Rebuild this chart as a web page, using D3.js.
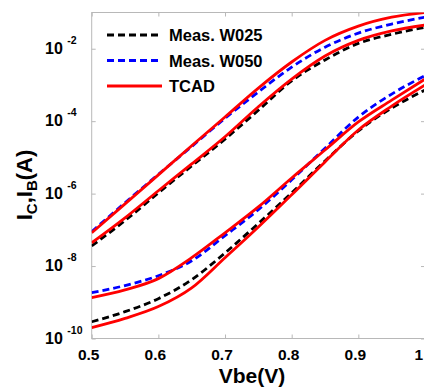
<!DOCTYPE html>
<html>
<head>
<meta charset="utf-8">
<script src="https://cdn.jsdelivr.net/npm/d3@7"></script>
<style>
  body { margin: 0; background: #fff; }
  svg { font-family: "Liberation Sans", Arial, sans-serif; font-weight: bold; }
</style>
</head>
<body>
<svg id="chart"></svg>
<script>
const width = 424, height = 390;

// Vbe sweep (V)
const vbe = [0.5, 0.55, 0.6, 0.65, 0.7, 0.75, 0.8, 0.85, 0.9, 0.95, 1.0];

// collector currents (A)
const icW025Meas = [3.6e-8, 1.8e-7, 1.05e-6, 5.8e-6, 3.2e-5, 2.0e-4, 1.3e-3, 4.9e-3, 1.4e-2, 2.5e-2, 3.9e-2];
const icW050Meas = [8.9e-8, 5.6e-7, 3.4e-6, 2.0e-5, 1.2e-4, 6.4e-4, 3.1e-3, 1.1e-2, 2.7e-2, 4.8e-2, 7.4e-2];
const icW025Tcad = [4.4e-8, 2.15e-7, 1.2e-6, 6.6e-6, 3.7e-5, 2.5e-4, 1.45e-3, 6.3e-3, 1.7e-2, 3.1e-2, 4.5e-2];
const icW050Tcad = [8.3e-8, 5.2e-7, 3.3e-6, 2.1e-5, 1.3e-4, 8.2e-4, 4.3e-3, 1.7e-2, 4.2e-2, 7.4e-2, 1.0e-1];

// base currents (A)
const ibW025Meas = [2.9e-10, 5.5e-10, 1.26e-9, 4.2e-9, 2.3e-8, 1.5e-7, 1.05e-6, 8.0e-6, 5.4e-5, 2.3e-4, 7.2e-4];
const ibW050Meas = [1.85e-9, 2.9e-9, 5.4e-9, 1.4e-8, 6.9e-8, 3.6e-7, 2.4e-6, 1.8e-5, 1.3e-4, 5.6e-4, 1.8e-3];
const ibW025Tcad = [2.0e-10, 3.6e-10, 7.6e-10, 2.5e-9, 1.7e-8, 1.2e-7, 9.3e-7, 7.5e-6, 5.7e-5, 2.6e-4, 9.9e-4];
const ibW050Tcad = [1.35e-9, 2.2e-9, 4.5e-9, 1.7e-8, 8.3e-8, 4.3e-7, 2.7e-6, 1.6e-5, 9.5e-5, 3.8e-4, 1.45e-3];

const xTicks = [0.5, 0.6, 0.7, 0.8, 0.9, 1.0];
const xTickLabels = ["0.5", "0.6", "0.7", "0.8", "0.9", "1"];
const yTickExps = [-10, -8, -6, -4, -2];

const legendNames = ["Meas. W025", "Meas. W050", "TCAD"];

let svg = d3.select("svg#chart").attr("width", width).attr("height", height);

let x = d3.scaleLinear().domain([0.5, 1.0]).range([91.7, 425]);
let y = d3.scaleLog().domain([1e-10, 1e-1]).range([338.5, 12.5]);

const styles = {
    black: { stroke: "#000", dash: "7,4" },
    blue: { stroke: "#0000ff", dash: "7,4" },
    red: { stroke: "#ff0000", dash: null },
};

let series = [
    { values: icW025Meas, style: styles.black },
    { values: ibW025Meas, style: styles.black },
    { values: icW050Meas, style: styles.blue },
    { values: ibW050Meas, style: styles.blue },
    { values: icW025Tcad, style: styles.red },
    { values: ibW025Tcad, style: styles.red },
    { values: icW050Tcad, style: styles.red },
    { values: ibW050Tcad, style: styles.red },
];

svg.append("clipPath")
    .attr("id", "plot-clip")
    .append("rect")
    .attr("x", x(0.5))
    .attr("y", y(1e-1))
    .attr("width", x(1.0) - x(0.5))
    .attr("height", y(1e-10) - y(1e-1));

// frame + ticks
const frameColor = "#b8b8b8";
svg.append("rect")
    .attr("x", x(0.5))
    .attr("y", y(1e-1))
    .attr("width", x(1.0) - x(0.5))
    .attr("height", y(1e-10) - y(1e-1))
    .attr("fill", "none")
    .attr("stroke", frameColor)
    .attr("stroke-width", 1);

let xAxisBottom = d3.axisBottom(x).tickValues(xTicks).tickSizeInner(-4).tickSizeOuter(0).tickFormat("");
let xAxisTop = d3.axisTop(x).tickValues(xTicks).tickSizeInner(-4).tickSizeOuter(0).tickFormat("");
let yAxisLeft = d3.axisLeft(y).tickValues(yTickExps.map((e) => Math.pow(10, e))).tickSizeInner(-4).tickSizeOuter(0).tickFormat("");
let yAxisRight = d3.axisRight(y).tickValues(yTickExps.map((e) => Math.pow(10, e))).tickSizeInner(-4).tickSizeOuter(0).tickFormat("");

[
    [xAxisBottom, `translate(0,${y(1e-10)})`],
    [xAxisTop, `translate(0,${y(1e-1)})`],
    [yAxisLeft, `translate(${x(0.5)},0)`],
    [yAxisRight, `translate(${x(1.0)},0)`],
].forEach(([axis, tr]) => {
    let g = svg.append("g").attr("transform", tr).call(axis);
    g.select(".domain").remove();
    g.selectAll("line").attr("stroke", frameColor);
});

// tick labels (last one pushed in so it stays on the page)
svg.append("g")
    .selectAll("text")
    .data(xTicks)
    .enter()
    .append("text")
    .attr("x", (d, i) => (i === xTicks.length - 1 ? width - 1 : x(d) - 3))
    .attr("y", y(1e-10) + 21.5)
    .attr("text-anchor", (d, i) => (i === xTicks.length - 1 ? "end" : "middle"))
    .attr("font-size", "15.5px")
    .text((d, i) => xTickLabels[i]);

let yLabels = svg.append("g")
    .selectAll("text")
    .data(yTickExps)
    .enter()
    .append("text")
    .attr("x", 45)
    .attr("y", (d) => y(Math.pow(10, d)) + 5.3)
    .attr("font-size", "16px");
yLabels.append("tspan").text("10");
yLabels.append("tspan")
    .attr("dx", 4.5)
    .attr("dy", -10)
    .attr("font-size", "10.5px")
    .text((d) => `${d}`);

// axis titles
svg.append("text")
    .attr("x", 252)
    .attr("y", 383)
    .attr("text-anchor", "middle")
    .attr("font-size", "21px")
    .text("Vbe(V)");

let yTitle = svg.append("text")
    .attr("transform", "translate(32,185) rotate(-90)")
    .attr("text-anchor", "middle")
    .attr("font-size", "22px");
yTitle.append("tspan").text("I");
yTitle.append("tspan").attr("font-size", "15px").attr("dy", 5).text("C");
yTitle.append("tspan").attr("dy", -5).text(",I");
yTitle.append("tspan").attr("font-size", "15px").attr("dy", 5).text("B");
yTitle.append("tspan").attr("dy", -5).text("(A)");

// curves
let line = d3.line()
    .x((d) => x(d[0]))
    .y((d) => y(d[1]))
    .curve(d3.curveMonotoneX);

svg.append("g")
    .attr("clip-path", "url(#plot-clip)")
    .selectAll("path")
    .data(series)
    .enter()
    .append("path")
    .attr("d", (s) => line(vbe.map((v, i) => [v, s.values[i]])))
    .attr("fill", "none")
    .attr("stroke", (s) => s.style.stroke)
    .attr("stroke-width", 2.8)
    .attr("stroke-dasharray", (s) => s.style.dash);

// legend
let legend = svg.append("g")
    .selectAll("g")
    .data([styles.black, styles.blue, styles.red])
    .enter()
    .append("g")
    .attr("transform", (d, i) => `translate(107,${35 + i * 25.5})`);

legend.append("line")
    .attr("x1", 0)
    .attr("x2", 55)
    .attr("stroke", (d) => d.stroke)
    .attr("stroke-width", 2.8)
    .attr("stroke-dasharray", (d) => d.dash);

legend.append("text")
    .attr("x", 62)
    .attr("y", 6)
    .attr("font-size", "16.5px")
    .text((d, i) => legendNames[i]);
</script>
</body>
</html>
